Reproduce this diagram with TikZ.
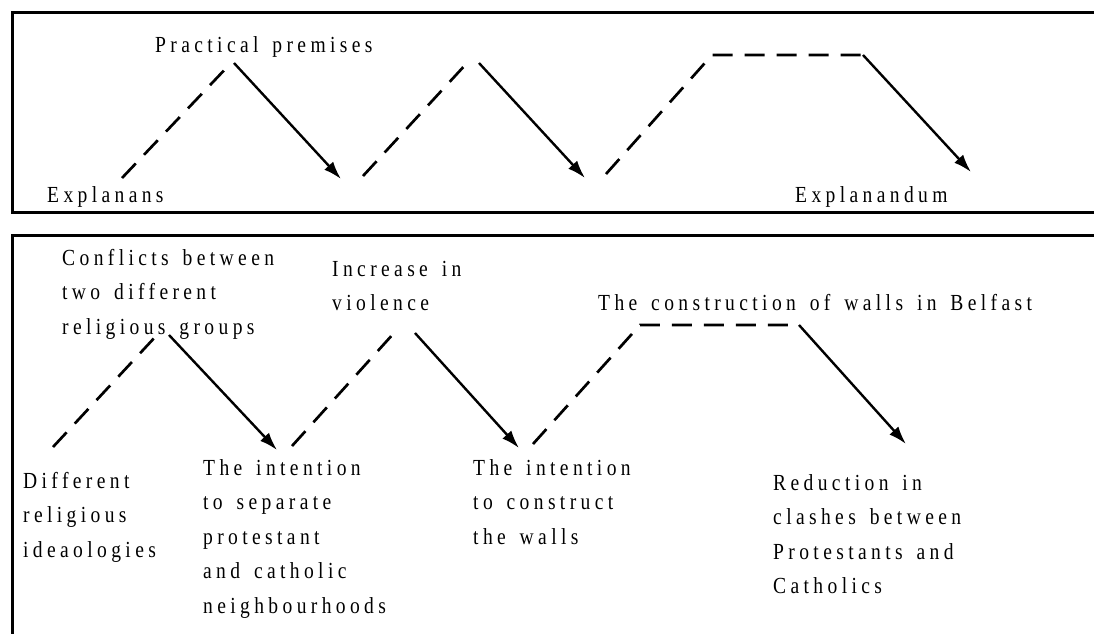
\documentclass[tikz,border=0pt]{standalone}
\usepackage{fontspec}
\newfontfamily\reffont[FakeStretch=0.85,LetterSpace=19,WordSpace=1.5]{Liberation Serif}
\usetikzlibrary{arrows.meta}
\begin{document}
\begin{tikzpicture}[x=1pt,y=-1pt,
  lbl/.style={anchor=north west, inner sep=0pt, align=left,
    font=\reffont\fontsize{23}{34.5}\selectfont},
  dline/.style={line width=2.7pt, dash pattern=on 20pt off 12pt},
  sline/.style={line width=2.4pt, -{Latex[length=18pt,width=12pt]}},
  frame/.style={line width=3pt}]
\useasboundingbox (0,0) rectangle (1094,633);
\clip (0,0) rectangle (1094,633);
\fill[white] (0,0) rectangle (1094,633);
% frames
\draw[frame] (1110,12) -- (12,12) -- (12,212) -- (1110,212);
\draw[frame] (1110,235) -- (12,235) -- (12,650);
% top labels
\node[lbl] (pp) at (155,28) {\strut Practical premises};
\node[lbl] (ens) at (47,178) {\strut Explanans};
\node[lbl] (end) at (795,178) {\strut Explanandum};
% top coordinates
\coordinate (a1) at (122,178); \coordinate (p1) at (231,63);
\coordinate (q1) at (234,63);  \coordinate (b1) at (341,179);
\coordinate (a2) at (363,176); \coordinate (p2) at (467,63);
\coordinate (q2) at (479,63);  \coordinate (b2) at (585,178);
\coordinate (a3) at (606,174); \coordinate (c3) at (712,55);
\coordinate (p3) at (863,55);  \coordinate (b3) at (971,172);
\draw[dline] (a1) -- (p1);
\draw[sline] (q1) -- (b1);
\draw[dline] (a2) -- (p2);
\draw[sline] (q2) -- (b2);
\draw[dline] (a3) -- (c3) -- (p3);
\draw[sline] (p3) -- (b3);
% bottom labels
\node[lbl] (conf) at (62,241) {\strut Conflicts between\\two different\\religious groups};
\node[lbl] (inc) at (332,252) {\strut Increase in\\violence};
\node[lbl] (cons) at (598,286) {\strut The construction of walls in Belfast};
\node[lbl] (diff) at (23,464) {\strut Different\\religious\\ideaologies};
\node[lbl] (sep) at (203,451) {\strut The intention\\to separate\\protestant\\and catholic\\neighbourhoods};
\node[lbl] (walls) at (473,451) {\strut The intention\\to construct\\the walls};
\node[lbl] (red) at (773,466) {\strut Reduction in\\clashes between\\Protestants and\\Catholics};
% bottom coordinates
\coordinate (A1) at (53,447);  \coordinate (P1) at (157,335);
\coordinate (Q1) at (169,335); \coordinate (B1) at (277,450);
\coordinate (A2) at (292,446); \coordinate (P2) at (394,333);
\coordinate (Q2) at (415,333); \coordinate (B2) at (519,448);
\coordinate (A3) at (533,444); \coordinate (C3) at (640,325);
\coordinate (P3) at (795,325); \coordinate (Q3) at (799,325);
\coordinate (B3) at (906,444);
\draw[dline] (A1) -- (P1);
\draw[sline] (Q1) -- (B1);
\draw[dline] (A2) -- (P2);
\draw[sline] (Q2) -- (B2);
\draw[dline] (A3) -- (C3) -- (P3);
\draw[sline] (Q3) -- (B3);
\end{tikzpicture}
\end{document}
